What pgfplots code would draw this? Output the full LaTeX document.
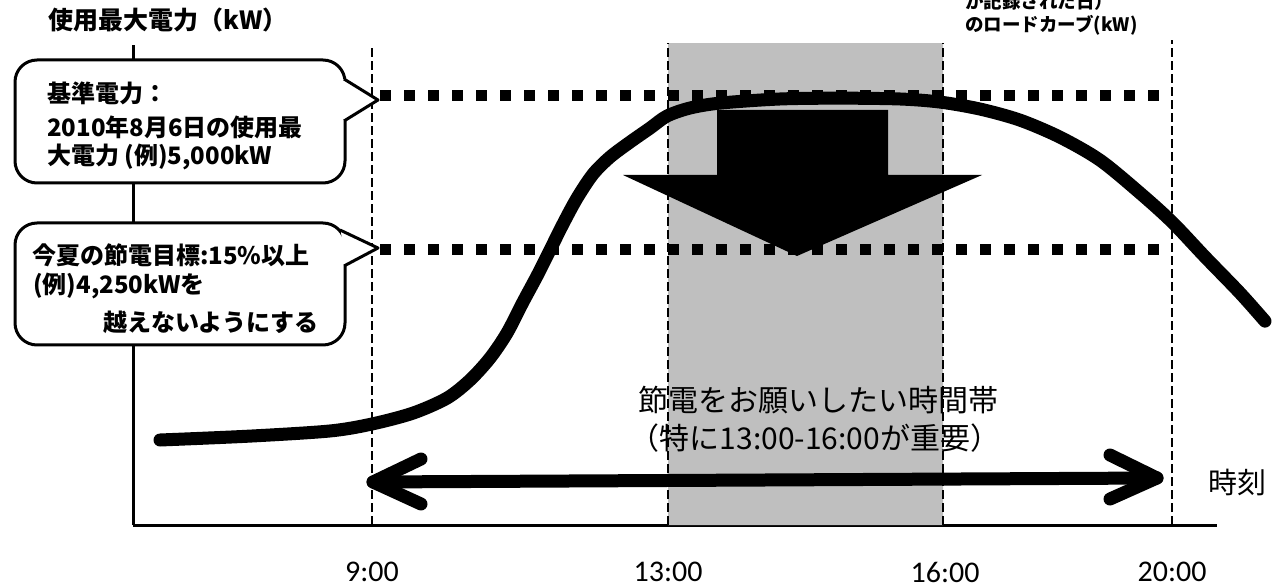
\documentclass[border=0pt]{standalone}
\usepackage{fontspec}
\setmainfont{Noto Sans CJK JP}
\newfontfamily\tickfont{Carlito}
\usepackage{pgfplots}
\pgfplotsset{compat=1.18}

% load curve: x = position along the time axis, y = kW
\pgfplotstableread{
pos kw
160 3320
250 3339
330 3364
372 3398
413 3451
447 3524
470 3612
490 3719
507 3841
523 3992
537 4119
550 4245
563 4372
577 4498
593 4615
610 4698
630 4771
650 4839
667 4898
690 4937
720 4961
780 4981
840 4985
900 4981
940 4966
980 4932
1020 4878
1060 4795
1100 4683
1140 4523
1172 4382
1205 4212
1240 4036
1265 3899
}\loadcurve

\begin{document}
\begin{tikzpicture}
\useasboundingbox (0,0) rectangle (1280pt,587pt);
\begin{axis}[
    at={(133pt,62pt)}, anchor=south west,
    width=1084pt, height=480pt, scale only axis,
    xmin=133, xmax=1217, ymin=2906, ymax=5244,
    axis x line=bottom, axis y line=left,
    axis line style={-, line width=3pt},
    xtick={372,668,945,1172},
    xticklabels={9:00,13:00,16:00,20:00},
    ytick=\empty, major tick length=0pt,
    xticklabel style={font=\tickfont\fontsize{30pt}{36pt}\selectfont, anchor=center, yshift=-47pt},
    clip=false,
]
% requested time band
\addplot[draw=none, fill=black!25] coordinates {(668,2906) (943,2906) (943,5253) (668,5253) (668,2906)};
% time markers
\addplot[black, line width=2pt, dash pattern=on 9pt off 4pt] coordinates {(372,2906) (372,5244)};
\addplot[black, line width=2pt, dash pattern=on 9pt off 4pt] coordinates {(668,2906) (668,5253)};
\addplot[black, line width=2pt, dash pattern=on 9pt off 4pt] coordinates {(943,2906) (943,5253)};
\addplot[black, line width=2pt, dash pattern=on 9pt off 4pt] coordinates {(1172,2906) (1172,5268)};
% base power and target
\addplot[black, line width=11pt, dash pattern=on 11pt off 13pt] coordinates {(380,5000) (1165,5000)};
\addplot[black, line width=11pt, dash pattern=on 11pt off 13pt] coordinates {(380,4250) (1165,4250)};
\addplot[black, line width=13pt, line cap=round, smooth] table[x=pos, y=kw] {\loadcurve};
\end{axis}

\begin{scope}[x=1pt, y=-1pt, yshift=587pt]
% big down arrow
\fill[black] (717,110) -- (888,110) -- (888,175) -- (982,175) -- (797,256) -- (623,175) -- (717,175) -- cycle;
% double arrow along the time band
\draw[line width=13pt, line cap=round, line join=round] (373,482) -- (1157,478);
\draw[line width=13pt, line cap=round, line join=round] (421,459) -- (373,482) -- (421,504);
\draw[line width=13pt, line cap=round, line join=round] (1110,455) -- (1157,478) -- (1110,499);

% callout 1
\draw[line width=3pt, fill=white, rounded corners=22pt] (15,60) rectangle (345,183);
\fill[white] (343,79) -- (378,100) -- (343,121) -- cycle;
\draw[line width=3pt, line join=round] (344,79) -- (378,100) -- (344,121);
% callout 2
\draw[line width=3pt, fill=white, rounded corners=22pt] (15,223) rectangle (345,345);
\fill[white] (341,230) -- (378,248) -- (343,266) -- cycle;
\draw[line width=3pt, line join=round] (340,230) -- (378,248) -- (344,266);

\begin{scope}[every node/.style={anchor=west, inner sep=0pt}]
\node[font=\bfseries\fontsize{25pt}{30pt}\selectfont] at (48,20) {使用最大電力（kW）};
\node[font=\bfseries\fontsize{18.5pt}{22pt}\selectfont] at (965,1) {が記録された日）};
\node[font=\bfseries\fontsize{18.5pt}{22pt}\selectfont] at (965,25) {のロードカーブ(kW)};
\node[font=\bfseries\fontsize{24pt}{30pt}\selectfont] at (47,93) {基準電力：};
\node[font=\bfseries\fontsize{24pt}{30pt}\selectfont] at (47,127) {2010年8月6日の使用最};
\node[font=\bfseries\fontsize{24pt}{30pt}\selectfont] at (47,157) {大電力 (例)5,000kW};
\node[font=\bfseries\fontsize{24pt}{30pt}\selectfont] at (32,255) {今夏の節電目標:15\%以上};
\node[font=\bfseries\fontsize{24pt}{30pt}\selectfont] at (33,286) {(例)4,250kWを};
\node[font=\bfseries\fontsize{24pt}{30pt}\selectfont] at (103,322) {越えないようにする};
\node[font=\fontsize{29pt}{34pt}\selectfont] at (1208,482) {時刻};
\end{scope}
\node[font=\fontsize{30pt}{36pt}\selectfont, inner sep=0pt] at (818,400) {節電をお願いしたい時間帯};
\node[font=\fontsize{30pt}{36pt}\selectfont, inner sep=0pt] at (815,438) {（特に13:00-16:00が重要）};
\end{scope}
\end{tikzpicture}
\end{document}
